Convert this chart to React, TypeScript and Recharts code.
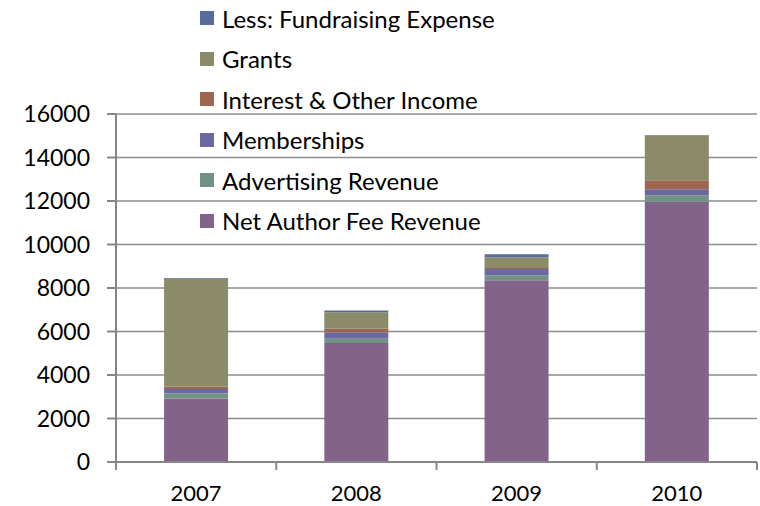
import React from 'react';
import { BarChart, Bar, XAxis, YAxis, CartesianGrid, Legend } from 'recharts';

const years = ['2007', '2008', '2009', '2010'];
const netAuthorFee = [2920, 5470, 8360, 11970];
const advertising = [230, 200, 215, 300];
const memberships = [210, 300, 300, 275];
const interestOther = [100, 160, 40, 410];
const grants = [4960, 760, 500, 2060];
const fundraising = [40, 80, 140, 20];
const yTicks = [0, 2000, 4000, 6000, 8000, 10000, 12000, 14000, 16000];

const FONT = 'Lato, "Open Sans", sans-serif';
const AXIS = '#868686';

const series = [
  { key: 'net', name: 'Net Author Fee Revenue', values: netAuthorFee, color: '#84638A' },
  { key: 'adv', name: 'Advertising Revenue', values: advertising, color: '#719384' },
  { key: 'mem', name: 'Memberships', values: memberships, color: '#6A69A0' },
  { key: 'int', name: 'Interest & Other Income', values: interestOther, color: '#A0654F' },
  { key: 'gr', name: 'Grants', values: grants, color: '#8B8B69' },
  { key: 'fr', name: 'Less: Fundraising Expense', values: fundraising, color: '#566D9B' },
];
const seriesNames = series.map((s) => s.name);

const data = years.map((y, i) => {
  const row: any = { pos: i + 0.5, year: y };
  series.forEach((s) => {
    row[s.key] = s.values[i];
  });
  return row;
});

const xTicks: number[] = [];
for (let i = 0; i <= years.length; i++) {
  xTicks.push(i);
  if (i < years.length) xTicks.push(i + 0.5);
}

const XTick = (props: any) => {
  const { x, y, payload } = props;
  const v = payload.value;
  if (Number.isInteger(v)) {
    return <line x1={x} x2={x} y1={y} y2={y + 8} stroke={AXIS} strokeWidth={2} />;
  }
  return (
    <text x={x} y={y + 39} textAnchor="middle" fill="#000" fontSize={22} fontFamily={FONT}>
      {years[Math.floor(v)]}
    </text>
  );
};

const renderLegend = (props: any) => {
  const items = [...(props.payload || [])].sort(
    (a: any, b: any) => seriesNames.indexOf(b.value) - seriesNames.indexOf(a.value)
  );
  return (
    <div style={{ fontFamily: FONT, fontSize: 24, color: '#000' }}>
      {items.map((it: any) => (
        <div key={it.value} style={{ height: 40.5, display: 'flex', alignItems: 'center', whiteSpace: 'nowrap' }}>
          <span style={{ width: 14, height: 14, background: it.color, marginRight: 8, display: 'inline-block', flex: 'none' }} />
          <span>{it.value}</span>
        </div>
      ))}
    </div>
  );
};

export default function App() {
  return (
    <div style={{ position: 'absolute', left: 0, top: 0, width: 760, height: 506, background: '#fff' }}>
      <BarChart
        width={760}
        height={506}
        data={data}
        margin={{ top: 114, right: 3, bottom: 0, left: 0 }}
        barCategoryGap="30%"
      >
        <CartesianGrid vertical={false} stroke="#8c8c8c" strokeWidth={1.5} />
        <XAxis
          dataKey="pos"
          type="number"
          domain={[0, years.length]}
          ticks={xTicks}
          interval={0}
          height={44}
          tickSize={0}
          tickMargin={0}
          tick={<XTick />}
          tickLine={false}
          axisLine={{ stroke: AXIS, strokeWidth: 2 }}
        />
        <YAxis
          domain={[0, 16000]}
          ticks={yTicks}
          interval={0}
          width={116}
          tickSize={9}
          tickMargin={17}
          tick={{ fill: '#000', fontSize: 23, fontFamily: FONT }}
          tickLine={{ stroke: AXIS, strokeWidth: 2 }}
          axisLine={{ stroke: AXIS, strokeWidth: 2 }}
        />
        <Legend
          layout="vertical"
          align="center"
          verticalAlign="middle"
          content={renderLegend}
          wrapperStyle={{ top: -2, left: 200, width: 340 }}
        />
        {series.map((s) => (
          <Bar
            key={s.key}
            dataKey={s.key}
            name={s.name}
            stackId="a"
            fill={s.color}
            isAnimationActive={false}
          />
        ))}
      </BarChart>
    </div>
  );
}
